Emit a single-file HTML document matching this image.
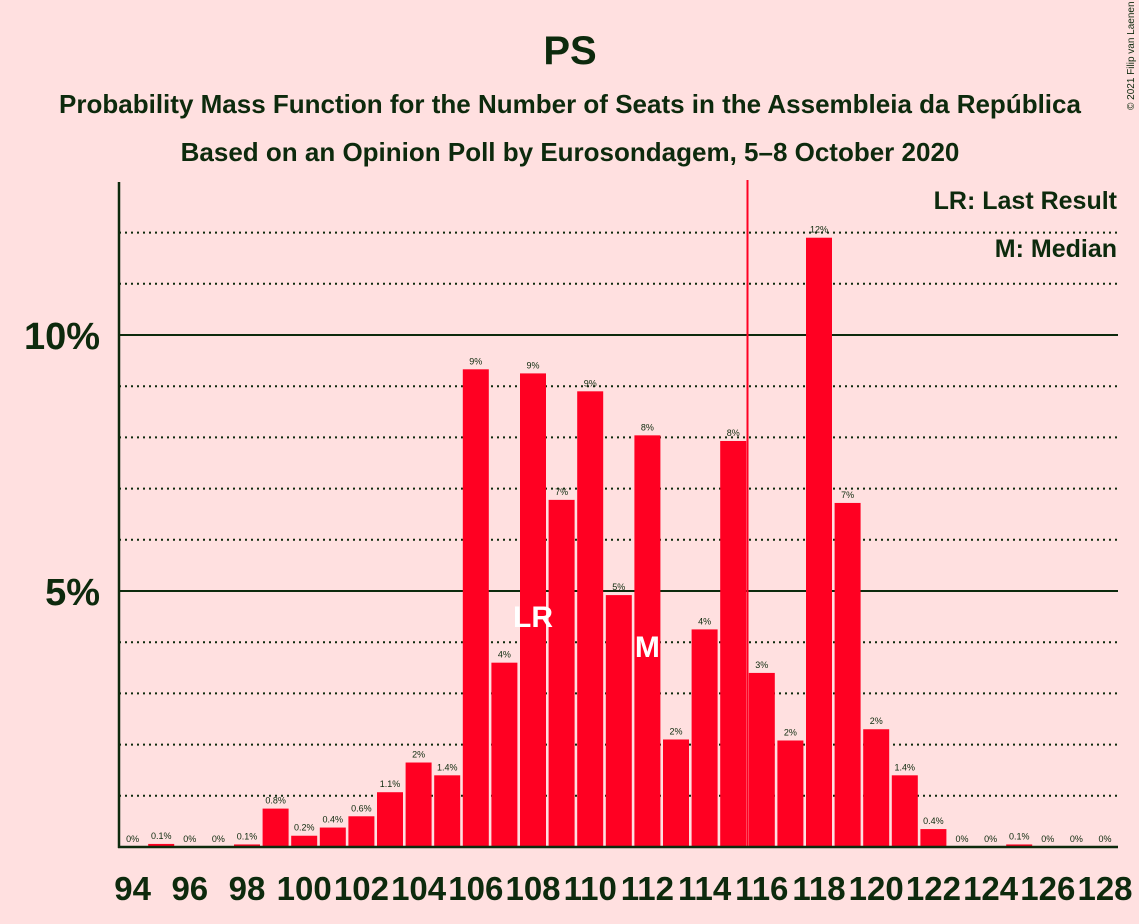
<!DOCTYPE html>
<html><head><meta charset="utf-8"><style>
body{margin:0;background:#ffe0e0;}
svg{display:block;font-family:"Liberation Sans",sans-serif;}
</style></head><body>
<svg id="c" width="1139" height="924" viewBox="0 0 1139 924">
<rect width="1139" height="924" fill="#ffe0e0"/>
<text x="570" y="64" text-anchor="middle" font-size="40" font-weight="bold" fill="#0d2a0d">PS</text>
<text x="570" y="113" text-anchor="middle" font-size="26" font-weight="bold" fill="#0d2a0d">Probability Mass Function for the Number of Seats in the Assembleia da República</text>
<text x="570" y="161" text-anchor="middle" font-size="26" font-weight="bold" fill="#0d2a0d">Based on an Opinion Poll by Eurosondagem, 5–8 October 2020</text>
<text x="1134" y="110" font-size="10" fill="#0d2a0d" transform="rotate(-90 1134 110)">© 2021 Filip van Laenen</text>
<text x="1117" y="209" text-anchor="end" font-size="25" font-weight="bold" fill="#0d2a0d">LR: Last Result</text>
<text x="1117" y="257" text-anchor="end" font-size="25" font-weight="bold" fill="#0d2a0d">M: Median</text>
<g id="grid"></g><g id="bars"></g><g id="axes"></g>
</svg>
<script>
const seats=[94,95,96,97,98,99,100,101,102,103,104,105,106,107,108,109,110,111,112,113,114,115,116,117,118,119,120,121,122,123,124,125,126,127,128];
const probs=[0,0.06,0,0,0.05,0.75,0.22,0.38,0.6,1.07,1.65,1.4,9.33,3.6,9.25,6.78,8.9,4.92,8.04,2.1,4.25,7.93,3.4,2.08,11.9,6.72,2.3,1.4,0.35,0,0,0.05,0,0,0];
const labels=["0%","0.1%","0%","0%","0.1%","0.8%","0.2%","0.4%","0.6%","1.1%","2%","1.4%","9%","4%","9%","7%","9%","5%","8%","2%","4%","8%","3%","2%","12%","7%","2%","1.4%","0.4%","0%","0%","0.1%","0%","0%","0%"];
const yTicks=[5,10];
const lastResult=108, median=112, lrLine=115.5;
const NS="http://www.w3.org/2000/svg";
const x=s=>132.6+(s-94)*28.6;
const y=p=>847-p*51.2;
function mk(t,a,p){const e=document.createElementNS(NS,t);for(const k in a)e.setAttribute(k,a[k]);p.appendChild(e);return e;}
const grid=document.getElementById('grid'),bars=document.getElementById('bars'),axes=document.getElementById('axes');
for(let p=1;p<=12;p++){
  const solid=yTicks.includes(p);
  const l=mk('line',{x1:119,x2:1118,y1:y(p),y2:y(p),stroke:'#0d2a0d','stroke-width':2,'stroke-dasharray':solid?'':'2,4'},grid);
  
  
}
yTicks.forEach(t=>{
  const e=mk('text',{x:100,y:y(t)+14,'text-anchor':'end','font-size':38,'font-weight':'bold',fill:'#0d2a0d'},axes);
  e.textContent=t+'%';
  
  
});
seats.forEach((s,i)=>{
  const h=probs[i]*51.2;
  const r=mk('rect',{x:x(s)-13,y:847-h,width:26,height:h,fill:'#ff0022'},bars);
  
  
  const t=mk('text',{x:x(s),y:847-h-5,'text-anchor':'middle','font-size':9,fill:'#0d2a0d'},bars);
  t.textContent=labels[i];
  
  
  if(s%2===0){
    const xl=mk('text',{x:x(s),y:900,'text-anchor':'middle','font-size':33,'font-weight':'bold',fill:'#0d2a0d'},axes);
    xl.textContent=s;
    
    
  }
});
const lt=mk('text',{x:x(lastResult),y:627,'text-anchor':'middle','font-size':30,'font-weight':'bold',fill:'#ffffff'},bars);
lt.textContent='LR';


const mt=mk('text',{x:x(median),y:657,'text-anchor':'middle','font-size':30,'font-weight':'bold',fill:'#ffffff'},bars);
mt.textContent='M';


const vl=mk('line',{x1:x(lrLine),x2:x(lrLine),y1:180,y2:847,stroke:'#ff0022','stroke-width':2},axes);


const ya=mk('line',{x1:119,x2:119,y1:182,y2:848,stroke:'#0d2a0d','stroke-width':2.5},axes);


const xa=mk('line',{x1:118,x2:1118,y1:847,y2:847,stroke:'#0d2a0d','stroke-width':2.5},axes);


</script>
</body></html>
